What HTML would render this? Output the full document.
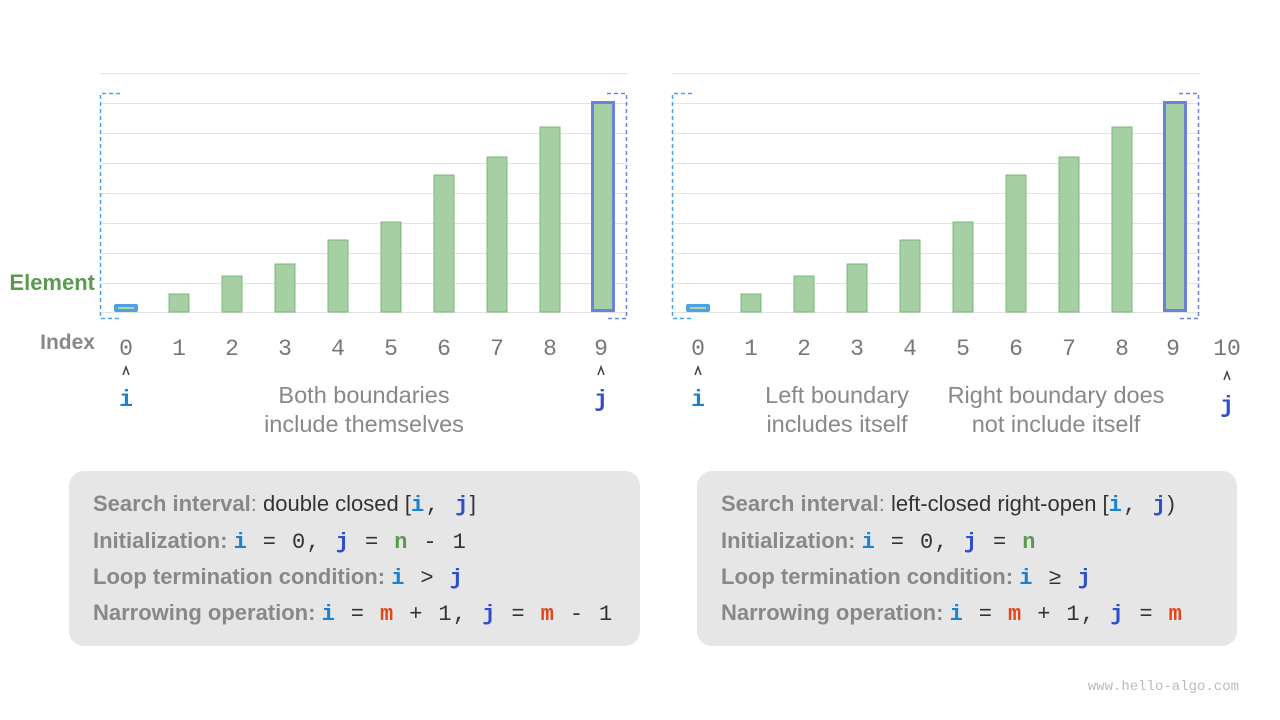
<!DOCTYPE html>
<html><head><meta charset="utf-8"><style>
body{margin:0;background:#fff}
svg{display:block}
.s{font-family:"Liberation Sans",sans-serif}
.m{font-family:"Liberation Mono",monospace}
</style></head><body>
<svg width="1280" height="720" viewBox="0 0 1280 720" xmlns="http://www.w3.org/2000/svg">
<defs>
<g id="grid">
<g stroke="#e3e3e3" stroke-width="1">
<line x1="100" y1="73.5" x2="628" y2="73.5"/>
<line x1="100" y1="103.5" x2="628" y2="103.5"/>
<line x1="100" y1="133.5" x2="628" y2="133.5"/>
<line x1="100" y1="163.5" x2="628" y2="163.5"/>
<line x1="100" y1="193.5" x2="628" y2="193.5"/>
<line x1="100" y1="223.5" x2="628" y2="223.5"/>
<line x1="100" y1="253.5" x2="628" y2="253.5"/>
<line x1="100" y1="283.5" x2="628" y2="283.5"/>
<line x1="100" y1="312.5" x2="628" y2="312.5"/>
</g>
<g fill="#a6cfa4" stroke="#7bb878" stroke-width="1">
<rect x="169" y="294" width="20" height="18"/>
<rect x="222" y="276" width="20" height="36"/>
<rect x="275" y="264" width="20" height="48"/>
<rect x="328" y="240" width="20" height="72"/>
<rect x="381" y="222" width="20" height="90"/>
<rect x="434" y="175" width="20" height="137"/>
<rect x="487" y="157" width="20" height="155"/>
<rect x="540" y="127" width="20" height="185"/>
</g>
<rect x="592.5" y="102.5" width="21" height="208" fill="#a6cfa4" stroke="#6b82db" stroke-width="3"/>
<rect x="114" y="304" width="24" height="8" rx="2" fill="#4aa3e6"/>
<line x1="118" y1="308" x2="134" y2="308" stroke="#b9d39e" stroke-width="2"/>
<path d="M120 93.5 H100.5 V318.5 H120" fill="none" stroke="#4aa3e6" stroke-width="1.5" stroke-dasharray="4,3"/>
<path d="M607 93.5 H626.5 V318.5 H607" fill="none" stroke="#6b82db" stroke-width="1.5" stroke-dasharray="4,3"/>
<g class="m" font-size="23" fill="#777" text-anchor="middle">
<text x="126" y="355">0</text><text x="179" y="355">1</text><text x="232" y="355">2</text><text x="285" y="355">3</text><text x="338" y="355">4</text><text x="391" y="355">5</text><text x="444" y="355">6</text><text x="497" y="355">7</text><text x="550" y="355">8</text><text x="601" y="355">9</text>
</g>
</g>
</defs>
<use href="#grid"/>
<use href="#grid" x="572"/>
<text class="s" x="95" y="290" font-size="22" font-weight="bold" fill="#5a9a4f" text-anchor="end">Element</text>
<text class="s" x="95" y="349" font-size="21" font-weight="bold" fill="#888" text-anchor="end">Index</text>
<text class="m" x="1227" y="355" font-size="23" fill="#777" text-anchor="middle">10</text>
<g fill="none" stroke="#444" stroke-width="1.5">
<path d="M123 375 L126 367 L129 375"/><path d="M598 375 L601 367 L604 375"/>
<path d="M695 375 L698 367 L701 375"/><path d="M1224 380 L1227 372 L1230 380"/>
</g>
<g class="m" font-size="23" font-weight="bold" text-anchor="middle">
<text x="126" y="406" fill="#1a82d0">i</text><text x="601" y="406" fill="#2f4fc9">j</text>
<text x="698" y="406" fill="#1a82d0">i</text><text x="1227" y="412" fill="#2f4fc9">j</text>
</g>
<g class="s" font-size="23.5" fill="#888" text-anchor="middle">
<text x="364" y="403">Both boundaries</text><text x="364" y="432">include themselves</text>
<text x="837" y="403">Left boundary</text><text x="837" y="432">includes itself</text>
<text x="1056" y="403">Right boundary does</text><text x="1056" y="432">not include itself</text>
</g>
<rect x="69" y="471" width="571" height="175" rx="15" fill="#e6e6e6"/>
<rect x="697" y="471" width="540" height="175" rx="15" fill="#e6e6e6"/>
<g font-size="22">
<text x="93" y="511"><tspan class="s" font-weight="bold" fill="#888">Search interval</tspan><tspan class="s" fill="#888">: </tspan><tspan class="s" fill="#333">double closed [</tspan><tspan class="m" font-weight="bold" fill="#1a82d0" letter-spacing="1.5">i</tspan><tspan class="m" fill="#333" letter-spacing="1.5">,  </tspan><tspan class="m" font-weight="bold" fill="#2f4fc9" letter-spacing="1.5">j</tspan><tspan class="s" fill="#333">]</tspan></text>
<g letter-spacing="1.4">
<text x="93" y="548"><tspan class="s" font-weight="bold" fill="#888" letter-spacing="0">Initialization: </tspan><tspan class="m" font-weight="bold" fill="#1a82d0">i</tspan><tspan class="m" fill="#333"> = 0, </tspan><tspan class="m" font-weight="bold" fill="#2f4fc9">j</tspan><tspan class="m" fill="#333"> = </tspan><tspan class="m" font-weight="bold" fill="#5a9a4f">n</tspan><tspan class="m" fill="#333"> - 1</tspan></text>
<text x="93" y="584"><tspan class="s" font-weight="bold" fill="#888" letter-spacing="0">Loop termination condition: </tspan><tspan class="m" font-weight="bold" fill="#1a82d0">i</tspan><tspan class="m" fill="#333"> &gt; </tspan><tspan class="m" font-weight="bold" fill="#2f4fc9">j</tspan></text>
<text x="93" y="620"><tspan class="s" font-weight="bold" fill="#888" letter-spacing="0">Narrowing operation: </tspan><tspan class="m" font-weight="bold" fill="#1a82d0">i</tspan><tspan class="m" fill="#333"> = </tspan><tspan class="m" font-weight="bold" fill="#e4471a">m</tspan><tspan class="m" fill="#333"> + 1, </tspan><tspan class="m" font-weight="bold" fill="#2f4fc9">j</tspan><tspan class="m" fill="#333"> = </tspan><tspan class="m" font-weight="bold" fill="#e4471a">m</tspan><tspan class="m" fill="#333"> - 1</tspan></text>
</g>
<text x="721" y="511"><tspan class="s" font-weight="bold" fill="#888">Search interval</tspan><tspan class="s" fill="#888">: </tspan><tspan class="s" fill="#333">left-closed right-open [</tspan><tspan class="m" font-weight="bold" fill="#1a82d0" letter-spacing="1.5">i</tspan><tspan class="m" fill="#333" letter-spacing="1.5">,  </tspan><tspan class="m" font-weight="bold" fill="#2f4fc9" letter-spacing="1.5">j</tspan><tspan class="s" fill="#333">)</tspan></text>
<g letter-spacing="1.4">
<text x="721" y="548"><tspan class="s" font-weight="bold" fill="#888" letter-spacing="0">Initialization: </tspan><tspan class="m" font-weight="bold" fill="#1a82d0">i</tspan><tspan class="m" fill="#333"> = 0, </tspan><tspan class="m" font-weight="bold" fill="#2f4fc9">j</tspan><tspan class="m" fill="#333"> = </tspan><tspan class="m" font-weight="bold" fill="#5a9a4f">n</tspan></text>
<text x="721" y="584"><tspan class="s" font-weight="bold" fill="#888" letter-spacing="0">Loop termination condition: </tspan><tspan class="m" font-weight="bold" fill="#1a82d0">i</tspan><tspan class="m" fill="#333"> ≥ </tspan><tspan class="m" font-weight="bold" fill="#2f4fc9">j</tspan></text>
<text x="721" y="620"><tspan class="s" font-weight="bold" fill="#888" letter-spacing="0">Narrowing operation: </tspan><tspan class="m" font-weight="bold" fill="#1a82d0">i</tspan><tspan class="m" fill="#333"> = </tspan><tspan class="m" font-weight="bold" fill="#e4471a">m</tspan><tspan class="m" fill="#333"> + 1, </tspan><tspan class="m" font-weight="bold" fill="#2f4fc9">j</tspan><tspan class="m" fill="#333"> = </tspan><tspan class="m" font-weight="bold" fill="#e4471a">m</tspan></text>
</g>
</g>
<text class="m" x="1239" y="690" font-size="14" fill="#bbb" text-anchor="end">www.hello-algo.com</text>
</svg>
</body></html>
